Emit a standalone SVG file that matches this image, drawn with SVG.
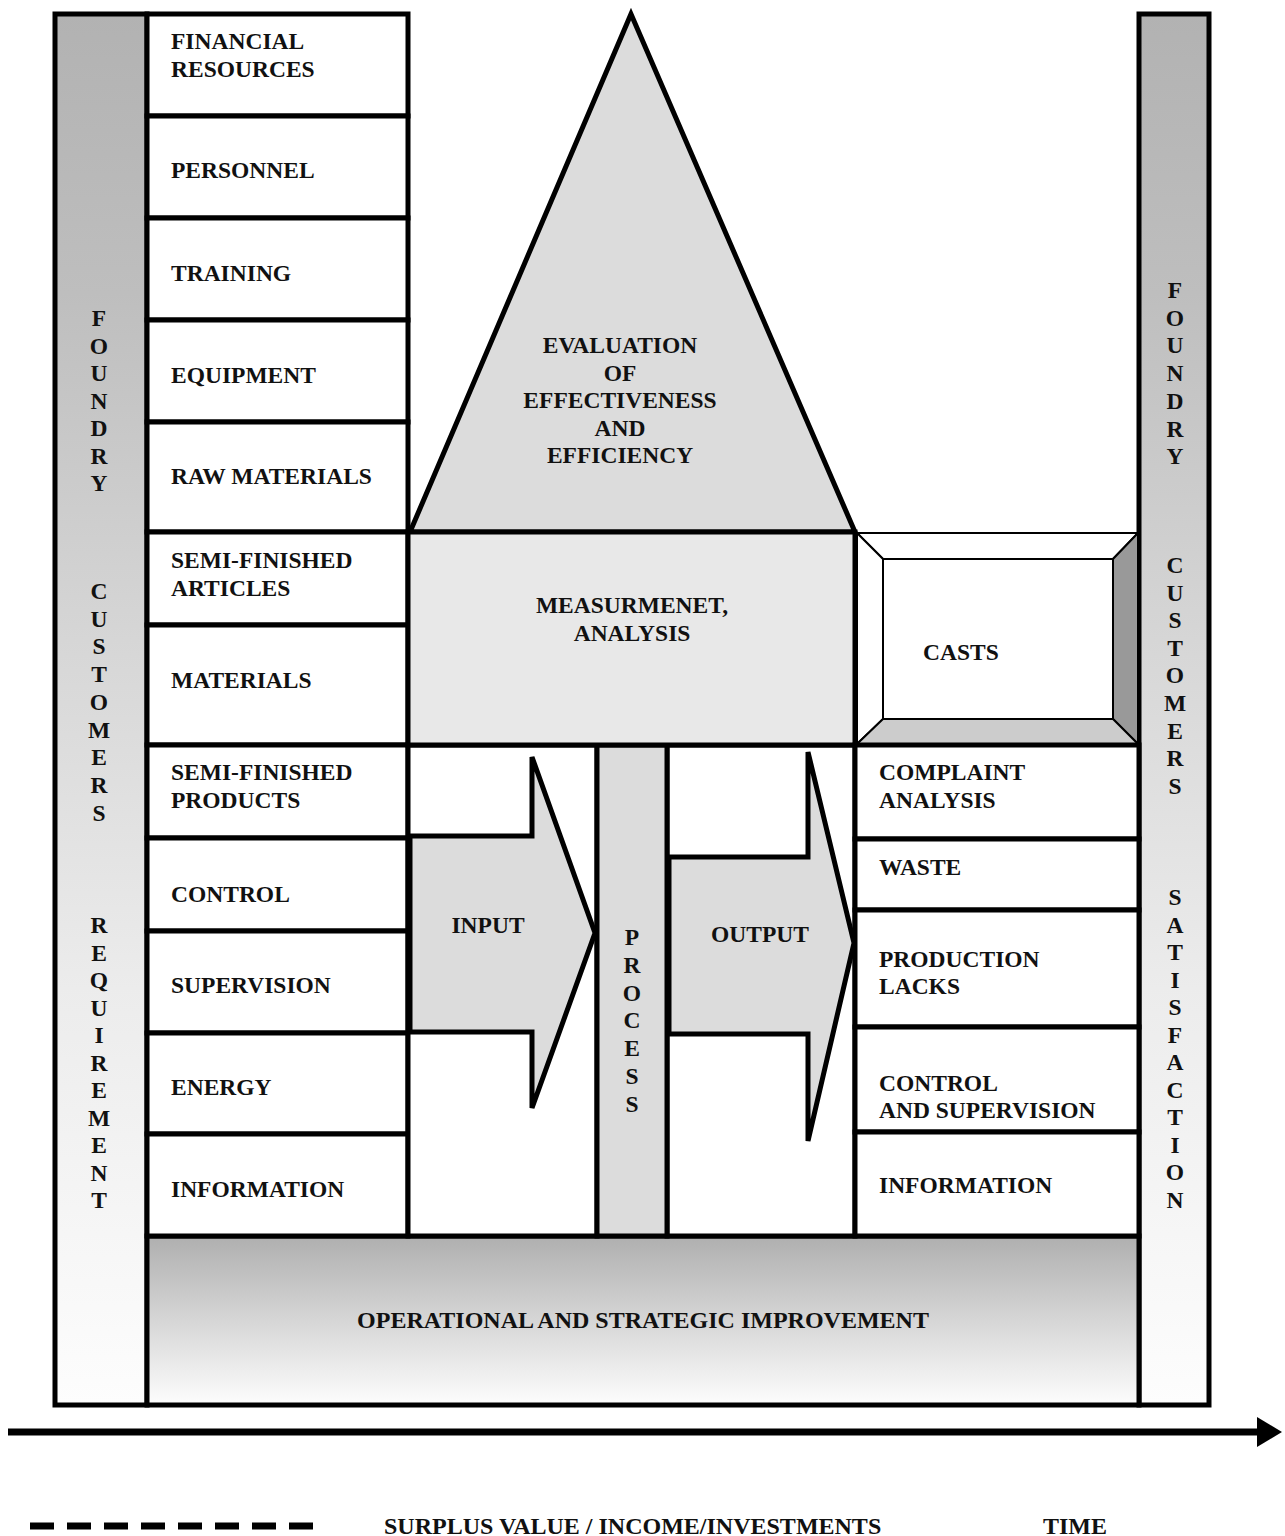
<svg xmlns="http://www.w3.org/2000/svg" width="1285" height="1536" viewBox="0 0 1285 1536">
<defs>
<linearGradient id="barGrad" x1="0" y1="0" x2="0" y2="1">
<stop offset="0" stop-color="#b2b2b2"/>
<stop offset="0.2" stop-color="#bebebe"/>
<stop offset="0.45" stop-color="#d6d6d6"/>
<stop offset="0.7" stop-color="#ececec"/>
<stop offset="1" stop-color="#fdfdfd"/>
</linearGradient>
<linearGradient id="baseGrad" x1="0" y1="0" x2="0" y2="1">
<stop offset="0" stop-color="#afafaf"/>
<stop offset="0.5" stop-color="#d6d6d6"/>
<stop offset="1" stop-color="#fdfdfd"/>
</linearGradient>
<style>
text{font-family:"Liberation Serif","Times New Roman",serif;font-weight:bold;font-size:23.5px;fill:#111}
.c{text-anchor:middle}
.big{font-size:24px}
.box{fill:#fff;stroke:#000;stroke-width:5}
.thin{stroke:#000;stroke-width:2}
.shape{stroke:#000;stroke-width:5;stroke-linejoin:miter}
</style>
</defs>

<g id="left-bar">
<rect x="55" y="14" width="92" height="1391" fill="url(#barGrad)" stroke="#000" stroke-width="5"/>
<text class="c"><tspan x="99" y="326">F</tspan><tspan x="99" dy="27.5">O</tspan><tspan x="99" dy="27.5">U</tspan><tspan x="99" dy="27.5">N</tspan><tspan x="99" dy="27.5">D</tspan><tspan x="99" dy="27.5">R</tspan><tspan x="99" dy="27.5">Y</tspan></text>
<text class="c"><tspan x="99" y="599">C</tspan><tspan x="99" dy="27.7">U</tspan><tspan x="99" dy="27.7">S</tspan><tspan x="99" dy="27.7">T</tspan><tspan x="99" dy="27.7">O</tspan><tspan x="99" dy="27.7">M</tspan><tspan x="99" dy="27.7">E</tspan><tspan x="99" dy="27.7">R</tspan><tspan x="99" dy="27.7">S</tspan></text>
<text class="c"><tspan x="99" y="933">R</tspan><tspan x="99" dy="27.5">E</tspan><tspan x="99" dy="27.5">Q</tspan><tspan x="99" dy="27.5">U</tspan><tspan x="99" dy="27.5">I</tspan><tspan x="99" dy="27.5">R</tspan><tspan x="99" dy="27.5">E</tspan><tspan x="99" dy="27.5">M</tspan><tspan x="99" dy="27.5">E</tspan><tspan x="99" dy="27.5">N</tspan><tspan x="99" dy="27.5">T</tspan></text>
</g>

<g id="right-bar">
<rect x="1139" y="14" width="70" height="1391" fill="url(#barGrad)" stroke="#000" stroke-width="5"/>
<text class="c"><tspan x="1175" y="298">F</tspan><tspan x="1175" dy="27.7">O</tspan><tspan x="1175" dy="27.7">U</tspan><tspan x="1175" dy="27.7">N</tspan><tspan x="1175" dy="27.7">D</tspan><tspan x="1175" dy="27.7">R</tspan><tspan x="1175" dy="27.7">Y</tspan></text>
<text class="c"><tspan x="1175" y="573">C</tspan><tspan x="1175" dy="27.6">U</tspan><tspan x="1175" dy="27.6">S</tspan><tspan x="1175" dy="27.6">T</tspan><tspan x="1175" dy="27.6">O</tspan><tspan x="1175" dy="27.6">M</tspan><tspan x="1175" dy="27.6">E</tspan><tspan x="1175" dy="27.6">R</tspan><tspan x="1175" dy="27.6">S</tspan></text>
<text class="c"><tspan x="1175" y="905">S</tspan><tspan x="1175" dy="27.5">A</tspan><tspan x="1175" dy="27.5">T</tspan><tspan x="1175" dy="27.5">I</tspan><tspan x="1175" dy="27.5">S</tspan><tspan x="1175" dy="27.5">F</tspan><tspan x="1175" dy="27.5">A</tspan><tspan x="1175" dy="27.5">C</tspan><tspan x="1175" dy="27.5">T</tspan><tspan x="1175" dy="27.5">I</tspan><tspan x="1175" dy="27.5">O</tspan><tspan x="1175" dy="27.5">N</tspan></text>
</g>

<g id="improvement">
<rect x="147" y="1236" width="992" height="169" fill="url(#baseGrad)" stroke="#000" stroke-width="5"/>
<text class="c big" x="643" y="1328">OPERATIONAL AND STRATEGIC IMPROVEMENT</text>
</g>

<g id="in-financial"><rect class="box" x="147" y="14" width="261" height="102"/><text x="171" y="49">FINANCIAL</text><text x="171" y="77">RESOURCES</text></g>
<g id="in-personnel"><rect class="box" x="147" y="116" width="261" height="102"/><text x="171" y="178">PERSONNEL</text></g>
<g id="in-training"><rect class="box" x="147" y="218" width="261" height="102"/><text x="171" y="281">TRAINING</text></g>
<g id="in-equipment"><rect class="box" x="147" y="320" width="261" height="102"/><text x="171" y="383">EQUIPMENT</text></g>
<g id="in-raw"><rect class="box" x="147" y="422" width="261" height="110"/><text x="171" y="484">RAW MATERIALS</text></g>
<g id="in-semi-articles"><rect class="box" x="147" y="532" width="261" height="93"/><text x="171" y="568">SEMI-FINISHED</text><text x="171" y="596">ARTICLES</text></g>
<g id="in-materials"><rect class="box" x="147" y="625" width="261" height="120"/><text x="171" y="688">MATERIALS</text></g>
<g id="in-semi-products"><rect class="box" x="147" y="745" width="261" height="93"/><text x="171" y="780">SEMI-FINISHED</text><text x="171" y="808">PRODUCTS</text></g>
<g id="in-control"><rect class="box" x="147" y="838" width="261" height="93"/><text x="171" y="902">CONTROL</text></g>
<g id="in-supervision"><rect class="box" x="147" y="931" width="261" height="102"/><text x="171" y="993">SUPERVISION</text></g>
<g id="in-energy"><rect class="box" x="147" y="1033" width="261" height="101"/><text x="171" y="1095">ENERGY</text></g>
<g id="in-information"><rect class="box" x="147" y="1134" width="261" height="102"/><text x="171" y="1197">INFORMATION</text></g>

<g id="middle-area">
<rect class="box" x="408" y="745" width="189" height="491"/>
<rect class="box" x="667" y="745" width="188" height="491"/>
</g>

<g id="process">
<rect x="597" y="745" width="70" height="491" fill="#dcdcdc" stroke="#000" stroke-width="5"/>
<text class="c"><tspan x="632" y="945">P</tspan><tspan x="632" dy="27.8">R</tspan><tspan x="632" dy="27.8">O</tspan><tspan x="632" dy="27.8">C</tspan><tspan x="632" dy="27.8">E</tspan><tspan x="632" dy="27.8">S</tspan><tspan x="632" dy="27.8">S</tspan></text>
</g>

<g id="input">
<polygon class="shape" fill="#dcdcdc" points="410,836 532,836 532,757 595,933 532,1108 532,1032 410,1032"/>
<text class="c" x="488" y="933">INPUT</text>
</g>

<g id="output">
<polygon class="shape" fill="#dcdcdc" points="669,857 808,857 808,752 854,943 808,1141 808,1034 669,1034"/>
<text class="c" x="760" y="942">OUTPUT</text>
</g>

<g id="evaluation">
<polygon class="shape" fill="#dcdcdc" points="631,14 410,532 855,532"/>
<text class="c" x="620" y="353">EVALUATION</text>
<text class="c" x="620" y="381">OF</text>
<text class="c" x="620" y="408">EFFECTIVENESS</text>
<text class="c" x="620" y="436">AND</text>
<text class="c" x="620" y="463">EFFICIENCY</text>
</g>

<g id="measurement">
<rect x="408" y="532" width="447" height="213" fill="#e8e8e8" stroke="#000" stroke-width="5"/>
<text class="c" x="632" y="613">MEASURMENET,</text>
<text class="c" x="632" y="641">ANALYSIS</text>
</g>

<g id="casts">
<polygon class="thin" fill="#fff" points="857,533 1138,533 1113,559 883,559"/>
<polygon class="thin" fill="#fff" points="857,533 883,559 883,719 857,744"/>
<polygon class="thin" fill="#999" points="1138,533 1138,744 1113,719 1113,559"/>
<polygon class="thin" fill="#ccc" points="857,744 1138,744 1113,719 883,719"/>
<rect class="thin" fill="#fff" x="883" y="559" width="230" height="160"/>
<text x="923" y="660">CASTS</text>
</g>

<g id="out-complaint"><rect class="box" x="855" y="745" width="284" height="94"/><text x="879" y="780">COMPLAINT</text><text x="879" y="808">ANALYSIS</text></g>
<g id="out-waste"><rect class="box" x="855" y="839" width="284" height="71"/><text x="879" y="875">WASTE</text></g>
<g id="out-lacks"><rect class="box" x="855" y="910" width="284" height="117"/><text x="879" y="967">PRODUCTION</text><text x="879" y="994">LACKS</text></g>
<g id="out-control"><rect class="box" x="855" y="1027" width="284" height="105"/><text x="879" y="1091">CONTROL</text><text x="879" y="1118">AND SUPERVISION</text></g>
<g id="out-information"><rect class="box" x="855" y="1132" width="284" height="104"/><text x="879" y="1193">INFORMATION</text></g>

<g id="connectors">
<line x1="8" y1="1432" x2="1260" y2="1432" stroke="#000" stroke-width="7"/>
<polygon points="1257,1417 1282,1432 1257,1447" fill="#000"/>
<line x1="30" y1="1526" x2="315" y2="1526" stroke="#000" stroke-width="7" stroke-dasharray="24 13"/>
</g>

<g id="legend">
<text class="big" x="384" y="1534">SURPLUS VALUE / INCOME/INVESTMENTS</text>
<text class="big" x="1043" y="1534">TIME</text>
</g>
</svg>
